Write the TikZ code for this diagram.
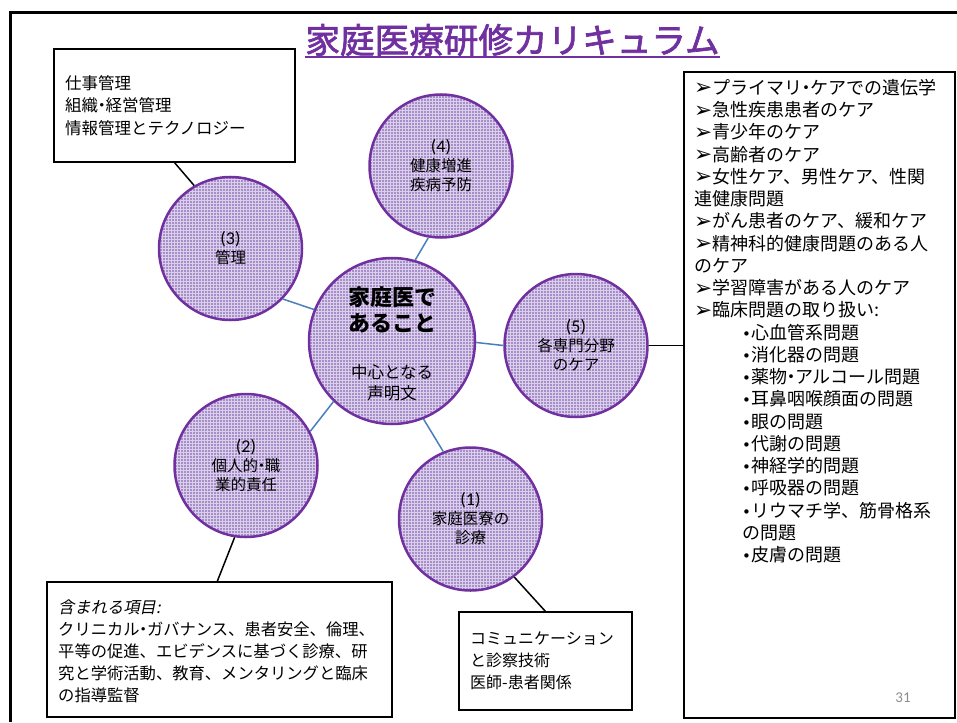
\documentclass[tikz,border=0pt]{standalone}
\usepackage{fontspec}
\setmainfont{Noto Sans CJK JP}
\newfontfamily\jpit[FakeSlant=0.2]{Noto Sans CJK JP}
\newfontfamily\ttlfont[FakeBold=2]{Noto Sans CJK JP}
\newfontfamily\dvfont{DejaVu Sans}
\newfontfamily\calfont{Carlito}
\usetikzlibrary{patterns}
\definecolor{ttlc}{HTML}{7030A0}
\definecolor{ringc}{HTML}{7030A0}
\definecolor{cfill}{HTML}{A88DCB}
\definecolor{gridc}{HTML}{DAD0EA}
\definecolor{linkc}{HTML}{4A7EBB}
\definecolor{pnum}{HTML}{8C8C8C}
\newcommand\myarr{\raisebox{-0.5pt}{\scalebox{1.35}{\dvfont\fontsize{16}{22.25}\selectfont ➢}}\hspace{0.5pt}}
\newcommand\mybul{{\dvfont\fontsize{15}{22.25}\selectfont •}}
\newcommand\myind{\hspace*{48pt}}
\newcommand\mydot{\makebox[0.45em][c]{・}}
\newcommand\numfont{\calfont\fontsize{18}{19}\selectfont}
\begin{document}
\begin{tikzpicture}[x=1pt,y=-1pt,
  bub/.style={circle, draw=ringc, line width=2.5pt, minimum size=143pt, inner sep=0pt,
    preaction={fill=cfill}, preaction={pattern=grid, pattern color=gridc},
    align=center, font=\fontsize{15.5}{19}\selectfont},
  tbox/.style={draw=black, line width=1.8pt, anchor=north west, inner sep=0pt, outer sep=0pt},
  txt/.style={inner sep=0pt, align=left, anchor=west},
  blue link/.style={draw=linkc, line width=1.5pt},
  black link/.style={draw=black, line width=1.5pt}]
\useasboundingbox (0,0) rectangle (957,722);
% page frame
\draw[line width=3pt] (10,722) -- (10,13) -- (957,13);
% title
\node[inner sep=0pt, text=ttlc, font=\ttlfont\fontsize{34.6}{40}\selectfont] (ttl) at (512.5,40) {家庭医療研修カリキュラム};
\draw[ttlc, line width=2pt] ([yshift=-4pt]ttl.base west) -- ([yshift=-4pt]ttl.base east);
% circles
\node[bub] (c3) at (230.5,248.5) {{\numfont (3)}\\管理};
\node[bub] (c4) at (441,166) {{\numfont (4)}\\健康増進\\疾病予防};
\node[bub, minimum size=166pt] (c0) at (392,341) {};
\node[inner sep=0pt, align=center, font=\bfseries\fontsize{22}{26}\selectfont] (c0a) at (392,310) {家庭医で\\あること};
\node[inner sep=0pt, align=center, font=\fontsize{16.5}{21}\selectfont] (c0b) at (392,382.5) {中心となる\\声明文};
\node[bub] (c5) at (576,345.5) {{\numfont (5)}\\各専門分野\\のケア};
\node[bub] (c2) at (246,465.5) {{\numfont (2)}\\個人的\mydot 職\\業的責任};
\node[bub] (c1) at (470.5,519) {{\numfont (1)}\\家庭医寮の\\診療};
% boxes
\node[tbox, minimum width=241pt, minimum height=113pt] (bTL) at (54,49) {};
\node[txt, font=\fontsize{16.5}{22.5}\selectfont] (bTLt) at (65,105.5) {仕事管理\\組織\mydot 経営管理\\情報管理とテクノロジー};
\node[tbox, minimum width=345pt, minimum height=135pt] (bBL) at (47,582) {};
\node[txt, font=\fontsize{16.3}{22}\selectfont] (bBLt) at (58,651) {{\jpit 含まれる項目:}\\クリニカル\mydot ガバナンス、患者安全、倫理、\\平等の促進、エビデンスに基づく診療、研\\究と学術活動、教育、メンタリングと臨床\\の指導監督};
\node[tbox, minimum width=173pt, minimum height=98pt] (bBM) at (459,612) {};
\node[txt, font=\fontsize{16}{22}\selectfont] (bBMt) at (470,661) {コミュニケーション\\と診察技術\\医師-患者関係};
\node[tbox, minimum width=271pt, minimum height=646pt] (bR) at (684,72) {};
\node[inner sep=0pt, align=left, anchor=north west, font=\fontsize{18}{22.25}\selectfont] (bRt) at (694,79) {%
\myarr プライマリ\mydot ケアでの遺伝学\\
\myarr 急性疾患患者のケア\\
\myarr 青少年のケア\\
\myarr 高齢者のケア\\
\myarr 女性ケア、男性ケア、性関\\
連健康問題\\
\myarr がん患者のケア、緩和ケア\\
\myarr 精神科的健康問題のある人\\
のケア\\
\myarr 学習障害がある人のケア\\
\myarr 臨床問題の取り扱い:\\
\myind\mybul 心血管系問題\\
\myind\mybul 消化器の問題\\
\myind\mybul 薬物\mydot アルコール問題\\
\myind\mybul 耳鼻咽喉顔面の問題\\
\myind\mybul 眼の問題\\
\myind\mybul 代謝の問題\\
\myind\mybul 神経学的問題\\
\myind\mybul 呼吸器の問題\\
\myind\mybul リウマチ学、筋骨格系\\
\myind の問題\\
\myind\mybul 皮膚の問題};
\node[inner sep=0pt, text=pnum, font=\calfont\fontsize{15}{16}\selectfont] (pg) at (903,698) {31};
% blue connectors
\draw[blue link] (c4.260) -- (c0.74);
\draw[blue link] (c3.316) -- (c0.158);
\draw[blue link] (c5.180) -- (c0.359);
\draw[blue link] (c2.28) -- (c0.226);
\draw[blue link] (c1.112) -- (c0.292);
% black connectors
\draw[black link] ([xshift=120pt]bTL.south west) -- (c3.120);
\draw[black link] (c2.261) -- ([xshift=170pt]bBL.north west);
\draw[black link] (c1.307) -- ([xshift=87pt]bBM.north west);
\draw[black link] (c5.east) -- (c5.east -| bR.west);
\end{tikzpicture}
\end{document}
